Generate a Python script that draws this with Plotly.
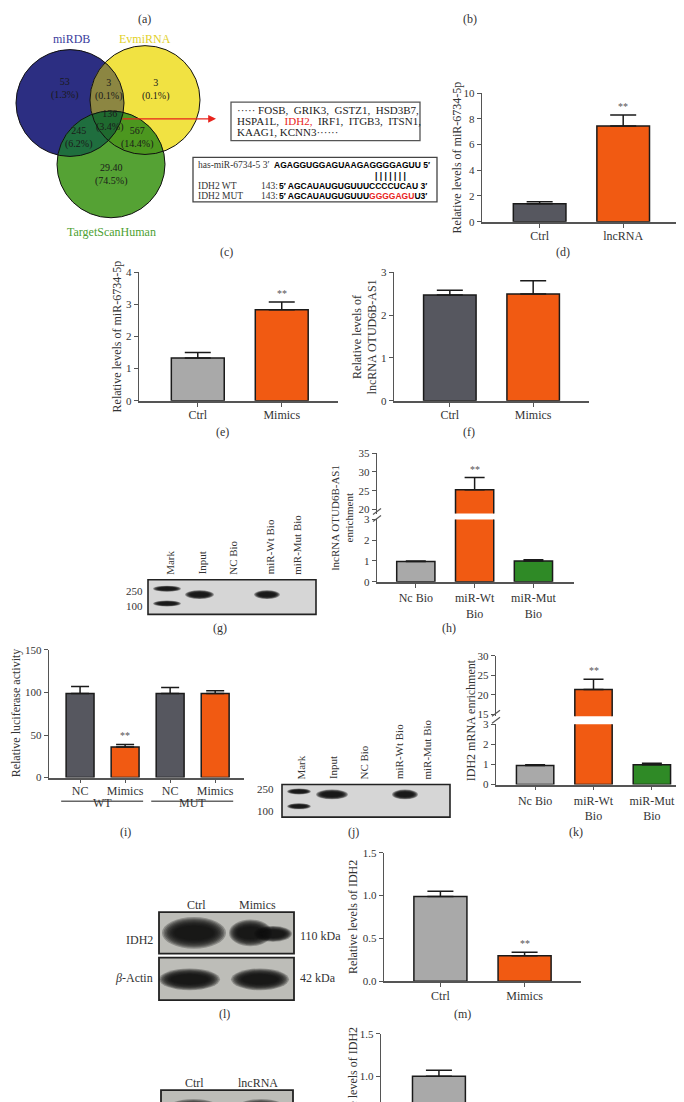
import numpy as np
import plotly.graph_objects as go

W, H = 684, 1102
SERIF = "Liberation Serif, Times New Roman, DejaVu Serif, serif"
SANS = "Liberation Sans, Arial, DejaVu Sans, sans-serif"
AX = "#555555"


def px(x):
    return x / W


def py(y):
    return 1 - y / H


# ---------------- data ----------------
venn_sets = ["miRDB", "EvmiRNA", "TargetScanHuman"]
venn_counts = ["53", "3", "3", "136", "245", "567", "29.40"]
venn_pcts = ["(1.3%)", "(0.1%)", "(0.1%)", "(3.4%)", "(6.2%)", "(14.4%)", "(74.5%)"]

genes_line1 = ["FOSB", "GRIK3", "GSTZ1", "HSD3B7"]
genes_line2 = ["HSPA1L", "IDH2", "IRF1", "ITGB3", "ITSN1"]
genes_line3 = ["KAAG1", "KCNN3"]

mir_name = "has-miR-6734-5"
mir_seq = "AGAGGUGGAGUAAGAGGGGAGUU"
wt_seq = "AGCAUAUGUGUUUCCCCUCAU"
mut_head, mut_site, mut_tail = "AGCAUAUGUGUUU", "GGGGAGU", "U"

d_cats = ["Ctrl", "lncRNA"]
d_vals = [1.4, 7.45]
d_errs = [1.55, 8.3]
d_sig = ["", "**"]

e_cats = ["Ctrl", "Mimics"]
e_vals = [1.33, 2.83]
e_errs = [1.5, 3.07]
e_sig = ["", "**"]

f_cats = ["Ctrl", "Mimics"]
f_vals = [2.47, 2.49]
f_errs = [2.58, 2.8]

g_lanes = ["Mark", "Input", "NC Bio", "miR-Wt Bio", "miR-Mut Bio"]
marker_sizes = ["250", "100"]

h_cats = ["Nc Bio", "miR-Wt<br>Bio", "miR-Mut<br>Bio"]
h_vals = [0.97, 25.3, 1.0]
h_errs = [1.0, 28.5, 1.06]
h_sig = ["", "**", ""]

i_cats = ["NC", "Mimics", "NC", "Mimics"]
i_groups = ["WT", "MUT"]
i_vals = [99, 36, 99, 99]
i_errs = [107, 39, 106, 102]
i_sig = ["", "**", "", ""]

j_lanes = ["Mark", "Input", "NC Bio", "miR-Wt Bio", "miR-Mut Bio"]

k_cats = ["Nc Bio", "miR-Wt<br>Bio", "miR-Mut<br>Bio"]
k_vals = [0.95, 21.4, 0.98]
k_errs = [0.98, 24.0, 1.06]
k_sig = ["", "**", ""]

l_lanes = ["Ctrl", "Mimics"]
l_rows = ["IDH2", "<i>β</i>-Actin"]
l_kda = ["110 kDa", "42 kDa"]

m_cats = ["Ctrl", "Mimics"]
m_vals = [0.99, 0.30]
m_errs = [1.05, 0.34]
m_sig = ["", "**"]

n_lanes = ["Ctrl", "lncRNA"]
n_cats = ["Ctrl", "lncRNA"]
n_vals = [1.0, 0.4]
n_errs = [1.07, 0.45]

panel_letters = ["(a)", "(b)", "(c)", "(d)", "(e)", "(f)", "(g)", "(h)", "(i)", "(j)", "(k)", "(l)", "(m)"]

DARK = "#56575f"
LIGHT = "#a9a9a9"
ORANGE = "#f15a12"
GREEN = "#2f8a26"

# ---------------- layout scaffolding ----------------
fig = go.Figure()
shapes = []
anns = []
layout = dict(width=W, height=H, margin=dict(l=0, r=0, t=0, b=0),
              paper_bgcolor="white", plot_bgcolor="rgba(0,0,0,0)",
              showlegend=False)


def ann(text, x, y, size=12, color="#222", family=SERIF, xanchor="center",
        yanchor="middle", angle=0, **kw):
    d = dict(text=text, x=px(x), y=py(y), xref="paper", yref="paper",
             showarrow=False, font=dict(size=size, color=color, family=family),
             xanchor=xanchor, yanchor=yanchor, textangle=angle)
    d.update(kw)
    anns.append(d)


def rect(x0, y0, x1, y1, fill="rgba(0,0,0,0)", line="#333", lw=1.2):
    shapes.append(dict(type="rect", xref="paper", yref="paper",
                       x0=px(x0), x1=px(x1), y0=py(y1), y1=py(y0),
                       fillcolor=fill, line=dict(color=line, width=lw)))


def ellipse(x0, y0, x1, y1, fill, opacity=1.0):
    shapes.append(dict(type="circle", xref="paper", yref="paper",
                       x0=px(x0), x1=px(x1), y0=py(y1), y1=py(y0),
                       fillcolor=fill, opacity=opacity, line=dict(width=0)))


def band(x0, x1, yc, h, strength=1.0):
    w = x1 - x0
    for s in np.linspace(1.0, 0.45, 9):
        dx = w * (1 - s) / 2 * 0.7
        dy = h * (1 - s) / 2
        ellipse(x0 + dx, yc - h / 2 + dy, x1 - dx, yc + h / 2 - dy, "#0e0e0e", 0.27 * strength)


def ax_names(k):
    return ("xaxis" if k == 1 else f"xaxis{k}", "yaxis" if k == 1 else f"yaxis{k}",
            "x" if k == 1 else f"x{k}", "y" if k == 1 else f"y{k}")


def y_style(**kw):
    base = dict(showline=True, linecolor=AX, linewidth=1.4, ticks="outside", ticklen=4,
                tickwidth=1.2, tickcolor=AX, showgrid=False, zeroline=False,
                tickfont=dict(family=SERIF, size=11, color="#333"), fixedrange=True)
    base.update(kw)
    return base


def x_style(**kw):
    base = dict(showline=True, linecolor=AX, linewidth=1.6, ticks="outside", ticklen=4,
                tickwidth=1.2, tickcolor=AX, showgrid=False, zeroline=False,
                tickfont=dict(family=SERIF, size=12, color="#333"), fixedrange=True)
    base.update(kw)
    return base


def bar_panel(k, xd, yd, cats, vals, errs, colors, xr, yr, tickvals, bw,
              cap=13, sig=None, tickformat=None, show_x=True, standoff=-2):
    xn, yn, xr_, yr_ = ax_names(k)
    n = len(cats)
    pos = list(range(n))
    layout[xn] = x_style(domain=[px(xd[0]), px(xd[1])], range=xr, anchor=yr_,
                         tickmode="array", tickvals=pos, ticktext=cats,
                         visible=show_x, ticklabelstandoff=standoff)
    yk = dict(domain=[py(yd[1]), py(yd[0])], range=yr, anchor=xr_,
              tickmode="array", tickvals=tickvals)
    if tickformat:
        yk["tickformat"] = tickformat
    layout[yn] = y_style(**yk)
    up = [None if e is None else e - v for e, v in zip(errs, vals)]
    fig.add_trace(go.Bar(
        x=pos, y=vals, width=bw, xaxis=xr_, yaxis=yr_,
        marker=dict(color=colors, line=dict(color="#1a1a1a", width=1.5)),
        error_y=dict(type="data", symmetric=False, array=up,
                     arrayminus=[0 if u is not None else None for u in up],
                     color="#1a1a1a", thickness=1.5, width=cap),
        hoverinfo="skip"))
    if sig:
        for p, s, e in zip(pos, sig, errs):
            if s:
                anns.append(dict(text=s, x=p, y=e, xref=xr_, yref=yr_, showarrow=False,
                                 yanchor="bottom", yshift=1,
                                 font=dict(family=SERIF, size=10, color="#555")))


def upper_segment(k, xd, yd, xr, yr, tickvals, pos, val, err, sig, bw, cap):
    xn, yn, xr_, yr_ = ax_names(k)
    layout[xn] = dict(domain=[px(xd[0]), px(xd[1])], range=xr, anchor=yr_, visible=False,
                      fixedrange=True)
    layout[yn] = y_style(domain=[py(yd[1]), py(yd[0])], range=yr, anchor=xr_,
                         tickmode="array", tickvals=tickvals)
    fig.add_trace(go.Bar(x=[pos], y=[val], width=bw, xaxis=xr_, yaxis=yr_,
                         marker=dict(color=ORANGE, line=dict(color="#1a1a1a", width=1.5)),
                         error_y=dict(type="data", symmetric=False, array=[err - val],
                                      arrayminus=[0], color="#1a1a1a", thickness=1.5, width=cap),
                         hoverinfo="skip"))
    anns.append(dict(text=sig, x=pos, y=err, xref=xr_, yref=yr_, showarrow=False,
                     yanchor="bottom", yshift=1, font=dict(family=SERIF, size=10, color="#555")))


def slashes(x, ys):
    for yy in ys:
        shapes.append(dict(type="line", xref="paper", yref="paper", x0=px(x - 4), x1=px(x + 4),
                           y0=py(yy + 3), y1=py(yy - 3), line=dict(color=AX, width=1.2)))


# ---------------- (a)/(c) Venn ----------------
circles = [(62, 90, 54), (137, 87, 55), (103, 152, 54)]
venn_fill = ["#2c2e82", "#f1e242", "#55a234"]


def circle_pts(c, n=400):
    t = np.linspace(0, 2 * np.pi, n, endpoint=False)
    return np.column_stack([c[0] + c[2] * np.cos(t), c[1] + c[2] * np.sin(t)])


def region_path(ids):
    pts = []
    for i in ids:
        p = circle_pts(circles[i])
        ok = np.ones(len(p), bool)
        for j in ids:
            if j != i:
                cj = circles[j]
                ok &= np.hypot(p[:, 0] - cj[0], p[:, 1] - cj[1]) <= cj[2] + 1e-9
        pts.append(p[ok])
    pts = np.vstack(pts)
    c = pts.mean(axis=0)
    order = np.argsort(np.arctan2(pts[:, 1] - c[1], pts[:, 0] - c[0]))
    pts = pts[order]
    return "M " + " L ".join(f"{px(x):.5f},{py(y):.5f}" for x, y in pts) + " Z"


def circle_shape(c, fill, outline=False):
    cx, cy, r = c
    shapes.append(dict(type="circle", xref="paper", yref="paper",
                       x0=px(cx - r), x1=px(cx + r), y0=py(cy + r), y1=py(cy - r),
                       fillcolor=fill if not outline else "rgba(0,0,0,0)",
                       line=dict(color="#111", width=1.0 if outline else 0)))


def region_shape(ids, fill):
    shapes.append(dict(type="path", xref="paper", yref="paper", path=region_path(ids),
                       fillcolor=fill, line=dict(width=0)))


circle_shape(circles[0], venn_fill[0])
circle_shape(circles[1], venn_fill[1])
region_shape([0, 1], "#8c8642")
circle_shape(circles[2], venn_fill[2])
region_shape([0, 2], "#1f6e3e")
region_shape([1, 2], "#4c971f")
region_shape([0, 1, 2], "#1f6a2f")
for c in circles:
    circle_shape(c, None, outline=True)

venn_label_pos = [(57, 75), (101, 76), (148, 76), (102, 108), (71, 125), (129, 125), (103, 162)]
for (x, y), cnt, pct in zip(venn_label_pos, venn_counts, venn_pcts):
    ann(f"{cnt}<br>{pct}", x, y, size=10, color="#1a1a1a")

set_pos = [(63, 25), (137, 25), (103, 220)]
set_col = ["#3a3c9c", "#e2d12a", "#4d9f32"]
for (x, y), name, col in zip(set_pos, venn_sets, set_col):
    ann(name, x, y, size=12, color=col)

# arrow
anns.append(dict(text="", x=px(208), y=py(106), xref="paper", yref="paper",
                 ax=-95, ay=0, showarrow=True, arrowhead=2, arrowsize=1.2,
                 arrowwidth=1.3, arrowcolor="#e8231c"))

# gene box
rect(223, 89, 412, 128, line="#555", lw=1.3)
ann("····· " + ",  ".join(genes_line1) + ",", 227, 97.5, size=11, xanchor="left")
ann(genes_line2[0] + ",  <span style='color:#e8231c'>" + genes_line2[1] + ",</span>  " +
    ",  ".join(genes_line2[2:]) + ",", 227, 108.5, size=11, xanchor="left")
ann(", ".join(genes_line3) + "······", 227, 119.5, size=11, xanchor="left")

# sequence box
rect(185, 145, 429, 190, line="#444", lw=1.3)
ann(mir_name + " 3′", 188, 153, size=9.5, xanchor="left", color="#333")
ann("<b>" + mir_seq + " 5′</b>", 264, 153, size=8.5, family=SANS, xanchor="left", color="#000")
ann("<b>| | | | | | |</b>", 365, 164, size=8.5, family=SANS, xanchor="left", color="#000")
ann("IDH2 WT", 188, 174, size=9.5, xanchor="left", color="#333")
ann("143:", 251, 174, size=9.5, xanchor="left", color="#333")
ann("<b>5′ " + wt_seq + " 3′</b>", 269, 174, size=8.5, family=SANS, xanchor="left", color="#000")
ann("IDH2 MUT", 188, 184, size=9.5, xanchor="left", color="#333")
ann("143:", 251, 184, size=9.5, xanchor="left", color="#333")
ann("<b>5′ " + mut_head + "<span style='color:#e8231c'>" + mut_site + "</span>" + mut_tail + "3′</b>",
    269, 184, size=8.5, family=SANS, xanchor="left", color="#000")

# ---------------- (d) ----------------
bar_panel(1, (474, 672), (80, 210), d_cats, d_vals, d_errs, [DARK, ORANGE],
          [-0.69, 1.68], [0, 10], [0, 2, 4, 6, 8, 10], 0.63, sig=d_sig)
ann("Relative levels of miR-6734-5p", 449, 145, size=12, angle=-90, color="#333")

# ---------------- (e) ----------------
bar_panel(2, (131, 330), (261, 391), e_cats, e_vals, e_errs, [LIGHT, ORANGE],
          [-0.70, 1.67], [0, 4], [0, 1, 2, 3, 4], 0.63, sig=e_sig)
ann("Relative levels of miR-6734-5p", 109, 326, size=12, angle=-90, color="#333")

# ---------------- (f) ----------------
bar_panel(3, (386, 581), (261, 391), f_cats, f_vals, f_errs, [DARK, ORANGE],
          [-0.67, 1.67], [0, 3], [0, 1, 2, 3], 0.63)
ann("Relative levels of<br>lncRNA OTUD6B-AS1", 357, 326, size=12, angle=-90, color="#333")

# ---------------- (g) blot ----------------
rect(140, 572, 308, 607, fill="#d6d6d6", line="#222", lw=1.6)
band(145, 173, 581, 6)
band(145, 173, 596, 6)
band(177, 206, 587, 9)
band(246, 272, 587, 9)
for x, lab in zip([162, 194, 225, 262, 289], g_lanes):
    ann(lab, x, 569, size=11, angle=-90, yanchor="bottom", color="#333")
ann(marker_sizes[0], 137, 583, size=11, xanchor="right", color="#333")
ann(marker_sizes[1], 137, 599, size=11, xanchor="right", color="#333")

# ---------------- (h) broken axis ----------------
h_colors = [LIGHT, ORANGE, GREEN]
bar_panel(4, (369, 566), (511, 574), h_cats, h_vals, [h_errs[0], None, h_errs[2]], h_colors,
          [-0.66, 2.69], [0, 3], [0, 1, 2, 3], 0.65, cap=10, standoff=0)
upper_segment(5, (369, 566), (444, 505), [-0.66, 2.69], [18.95, 35], [20, 25, 30, 35],
              1, h_vals[1], h_errs[1], h_sig[1], 0.65, 10)
slashes(369, (503, 510))
ann("lncRNA OTUD6B-AS1<br>enrichment", 334, 510, size=11, angle=-90, color="#333")

# ---------------- (i) ----------------
bar_panel(6, (41, 236), (643, 772), i_cats, i_vals, i_errs, [DARK, ORANGE, DARK, ORANGE],
          [-0.69, 3.64], [0, 150], [0, 50, 100, 150], 0.62, cap=9, sig=i_sig, standoff=-3)
for gi, g in enumerate(i_groups):
    shapes.append(dict(type="line", xref="x6", yref="paper", x0=2 * gi - 0.42, x1=2 * gi + 1.4,
                       y0=py(796), y1=py(796), line=dict(color="#666", width=1.5)))
    anns.append(dict(text=g, x=2 * gi + 0.5, y=py(807), xref="x6", yref="paper", showarrow=False,
                     font=dict(family=SERIF, size=12, color="#333")))
ann("Relative luciferase activity", 8, 707, size=12, angle=-90, color="#333")

# ---------------- (j) blot ----------------
rect(274, 779, 442, 812, fill="#d6d6d6", line="#222", lw=1.6)
band(279, 303, 786, 6)
band(279, 303, 801, 6)
band(308, 340, 789, 10)
band(384, 410, 789, 10)
for x, lab in zip([293, 325, 356, 391, 419], j_lanes):
    ann(lab, x, 776, size=11, angle=-90, yanchor="bottom", color="#333")
ann(marker_sizes[0], 268, 784, size=11, xanchor="right", color="#333")
ann(marker_sizes[1], 268, 806, size=11, xanchor="right", color="#333")

# ---------------- (k) broken axis ----------------
bar_panel(7, (488, 683), (718, 779), k_cats, k_vals, [k_errs[0], None, k_errs[2]], h_colors,
          [-0.67, 2.67], [0, 3], [0, 1, 2, 3], 0.64, cap=10, standoff=0)
upper_segment(8, (488, 683), (649, 710), [-0.67, 2.67], [14.5, 30], [15, 20, 25, 30],
              1, k_vals[1], k_errs[1], k_sig[1], 0.64, 10)
slashes(488, (707, 714))
ann("IDH2 mRNA enrichment", 463, 714, size=12, angle=-90, color="#333")

# ---------------- (l) blot ----------------
rect(151, 908, 286, 950, fill="#bdbdb8", line="#222", lw=1.8)
rect(151, 954, 286, 997, fill="#bdbdb8", line="#222", lw=1.8)
band(154, 218, 929, 32)
band(221, 264, 929, 27)
band(246, 284, 930, 16)
band(151, 212, 976, 22)
band(223, 281, 976, 22)
ann(l_lanes[0], 188, 901, size=12, color="#333")
ann(l_lanes[1], 249, 901, size=12, color="#333")
ann(l_rows[0], 147, 936, size=12, xanchor="right", color="#333")
ann(l_rows[1], 147, 975, size=12, xanchor="right", color="#333")
ann(l_kda[0], 290, 932, size=12, xanchor="left", color="#333")
ann(l_kda[1], 290, 975, size=12, xanchor="left", color="#333")

# ---------------- (m) ----------------
bar_panel(9, (376, 573), (848, 978), m_cats, m_vals, m_errs, [LIGHT, ORANGE],
          [-0.67, 1.67], [0, 1.5], [0, 0.5, 1.0, 1.5], 0.63, sig=m_sig, tickformat=".1f")
ann("Relative levels of IDH2", 345, 913, size=12, angle=-90, color="#333")

# ---------------- (n) partial ----------------
bar_panel(10, (373, 572), (1031, 1102), n_cats, n_vals, n_errs, [LIGHT, ORANGE],
          [-0.69, 1.68], [0.674, 1.5], [0, 0.5, 1.0, 1.5], 0.63, tickformat=".1f", show_x=False)
ann("Relative levels of IDH2", 345, 1082, size=12, angle=-90, color="#333")
rect(153, 1088, 285, 1115, fill="#bdbdb8", line="#222", lw=1.8)
band(155, 216, 1110, 26)
band(224, 282, 1110, 26)
ann(n_lanes[0], 186, 1081, size=12, color="#333")
ann(n_lanes[1], 250, 1081, size=12, color="#333")

# ---------------- panel letters ----------------
letter_pos = [(136, 5), (462, 5), (218, 241), (555, 241), (214, 423), (461, 423),
              (212, 621), (441, 621), (117, 827), (345, 827), (568, 827), (216, 1011), (454, 1011)]
for (x, y), t in zip(letter_pos, panel_letters):
    ann(t, x, y, size=12, color="#333")

layout["shapes"] = shapes
layout["annotations"] = anns
fig.update_layout(**layout)
fig.write_html("out.html")
